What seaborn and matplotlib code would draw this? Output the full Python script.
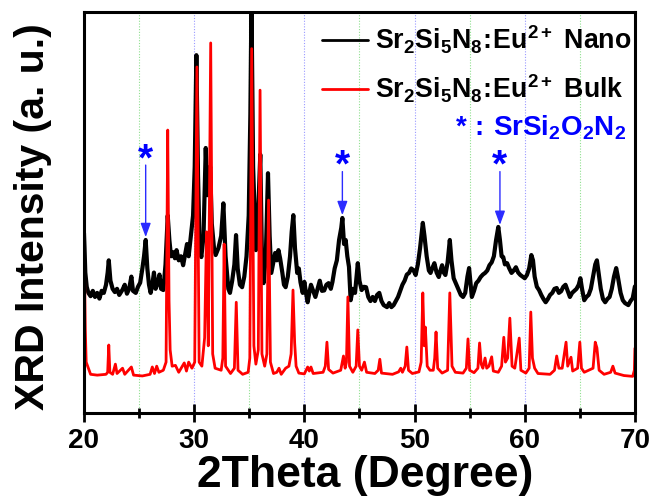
import matplotlib
matplotlib.use('Agg')
import matplotlib.pyplot as plt
import numpy as np
import pandas as pd
import seaborn as sns
from matplotlib.ticker import MultipleLocator

# Sr2Si5N8:Eu2+ nano powder (a.u.)
nano_theta = [20.0, 20.05, 20.12, 20.25, 20.4, 20.6, 20.8, 21.0, 21.2, 21.4, 21.6, 21.8, 22.0, 22.15, 22.25, 22.4,
              22.6, 22.8, 23.0, 23.2, 23.5, 23.7, 23.9, 24.1, 24.3, 24.45, 24.7, 24.9, 25.1, 25.3, 25.45,
              25.6, 25.75, 25.9, 26.05, 26.2, 26.35, 26.5, 26.7, 26.85, 27.0, 27.2, 27.4, 27.6, 27.75, 27.9,
              28.1, 28.25, 28.4, 28.6, 28.8, 29.0, 29.15, 29.35, 29.5, 29.7, 29.9, 30.05, 30.2, 30.35, 30.5,
              30.65, 30.85, 31.05, 31.2, 31.45, 31.6, 31.8, 31.95, 32.2, 32.45, 32.65, 32.85, 33.1, 33.25,
              33.45, 33.65, 33.8, 33.95, 34.15, 34.35, 34.55, 34.75, 34.95, 35.1, 35.2, 35.35, 35.6, 35.8,
              36.0, 36.15, 36.3, 36.5, 36.7, 36.85, 37.0, 37.15, 37.35, 37.5, 37.65, 37.8, 38.0, 38.15, 38.3,
              38.5, 38.7, 38.85, 39.0, 39.15, 39.35, 39.5, 39.65, 39.85, 40.0, 40.15, 40.3, 40.45, 40.6, 40.8,
              41.0, 41.2, 41.4, 41.6, 41.8, 42.0, 42.2, 42.4, 42.55, 42.75, 42.95, 43.15, 43.35, 43.45, 43.6,
              43.75, 43.9, 44.05, 44.2, 44.4, 44.6, 44.85, 45.0, 45.2, 45.4, 45.6, 45.8, 46.0, 46.2, 46.4,
              46.6, 46.8, 47.0, 47.2, 47.5, 47.7, 47.9, 48.1, 48.3, 48.5, 48.7, 48.9, 49.1, 49.3, 49.5, 49.7,
              49.9, 50.1, 50.3, 50.5, 50.75, 50.9, 51.1, 51.3, 51.45, 51.6, 51.8, 52.0, 52.2, 52.35, 52.5,
              52.65, 52.8, 53.0, 53.2, 53.35, 53.55, 53.8, 54.0, 54.2, 54.4, 54.6, 54.8, 54.95, 55.1, 55.2,
              55.4, 55.6, 55.8, 56.0, 56.2, 56.4, 56.6, 56.8, 57.0, 57.2, 57.4, 57.6, 57.75, 57.9, 58.05,
              58.2, 58.4, 58.6, 58.8, 59.0, 59.2, 59.4, 59.6, 59.8, 60.0, 60.2, 60.4, 60.6, 60.75, 60.9,
              61.1, 61.3, 61.5, 61.7, 61.9, 62.1, 62.3, 62.5, 62.7, 62.9, 63.1, 63.3, 63.5, 63.7, 63.9,
              64.1, 64.3, 64.5, 64.7, 64.9, 65.05, 65.2, 65.4, 65.6, 65.8, 66.0, 66.2, 66.4, 66.55, 66.7,
              66.9, 67.1, 67.3, 67.5, 67.7, 67.9, 68.1, 68.3, 68.45, 68.7, 68.9, 69.1, 69.4, 69.6, 69.8, 70.0]
nano_int = [45.7, 42, 36, 32.5, 31, 30.2, 31.5, 30, 31, 29.6, 31.5, 31, 33, 36, 39, 34,
            32, 31.2, 32, 30.5, 31.8, 33, 30.8, 32, 35, 31.5, 31, 32.5, 33.5, 37, 40,
            44, 37, 33, 31, 33, 36, 32, 33.5, 35.5, 32, 31.7, 38, 50, 44, 40,
            41, 39.5, 41.5, 39, 40, 37.8, 40, 43, 40, 45, 50, 62, 89.4, 60, 42,
            39.8, 45, 66.6, 55, 62, 48, 42, 40.3, 42, 45, 53, 40, 32, 31,
            34, 38, 45.2, 37, 33, 32.4, 35, 40, 50, 75, 103, 62, 41.5, 50,
            65, 40, 33.4, 40, 60.4, 45, 35.9, 38, 40.8, 39, 41.5, 39.5, 36, 33, 32.4,
            35, 40, 46, 50.1, 42, 35.9, 37, 33.6, 31, 33.7, 31, 28.7, 31, 33, 31.5,
            30, 32, 34, 31.5, 31.6, 33, 33.4, 32, 33.7, 37, 39, 44, 47, 49.4, 43,
            44, 40, 37.4, 29.2, 32, 31, 38.3, 34, 31.7, 32.5, 32.4, 30, 29, 30, 29,
            30.5, 31, 29, 28, 27.5, 28.5, 27.5, 28, 29, 30, 31.5, 33, 34, 35.5, 35.9, 37,
            36.6, 35.4, 38, 42, 48.2, 45, 40, 36.5, 35.9, 37, 38.3, 36, 34.9, 36.5, 37.8,
            36, 35.4, 38.5, 44, 39, 34.6, 33, 31.7, 30.5, 30, 31, 35, 37.1, 33, 30,
            31.5, 33.4, 34, 34.9, 35.5, 35.9, 36.5, 37.8, 38.5, 40, 44, 47.2, 44, 40, 39.8,
            38, 38.3, 37, 35.9, 36.5, 37.3, 36, 35.4, 35, 34.6, 35.4, 37, 40.3, 39, 35,
            32.5, 31.7, 30.5, 29.5, 28.7, 29.5, 30.5, 31, 32, 32.2, 31, 31.4, 32.5, 33, 31.5,
            30, 31, 31.5, 32, 33, 34.6, 32, 29.2, 30, 30.5, 32, 35, 38, 39, 36,
            32, 29.5, 28.7, 29.5, 30, 32, 35, 37.1, 35, 31, 29.2, 28.5, 28, 29, 29.7, 32.6]

# Sr2Si5N8:Eu2+ bulk powder
bulk_theta = [20.0, 20.05, 20.12, 20.2, 20.6, 21.2, 22.0, 22.15, 22.25, 22.35, 22.6, 22.85, 23.0, 23.5, 23.7, 24.3,
              24.5, 25.3, 26.0, 26.2, 26.4, 26.6, 26.8, 27.2, 27.45, 27.6, 27.72, 27.82, 28.0, 28.3, 28.6,
              29.1, 29.3, 29.5, 29.8, 30.05, 30.25, 30.45, 30.7, 30.95, 31.12, 31.28, 31.5, 31.68, 31.9,
              32.45, 32.6, 32.72, 32.85, 33.3, 33.65, 33.82, 33.98, 34.4, 34.9, 35.05, 35.22, 35.42, 35.6,
              35.82, 35.98, 36.15, 36.4, 36.6, 36.75, 36.92, 37.2, 37.5, 37.7, 37.9, 38.3, 38.6, 38.8,
              38.97, 39.12, 39.25, 39.5, 40.0, 40.3, 40.45, 40.6, 40.8, 41.7, 41.9, 42.05, 42.2, 42.6,
              43.3, 43.55, 43.7, 43.82, 43.95, 44.1, 44.4, 44.7, 44.85, 45.0, 45.2, 45.45, 45.65, 46.4,
              46.7, 46.85, 47.0, 48.0, 48.55, 48.75, 48.9, 49.15, 49.3, 49.45, 49.8, 50.4, 50.6, 50.75,
              50.88, 50.98, 51.15, 51.4, 51.7, 51.83, 51.95, 52.1, 52.5, 53.0, 53.2, 53.4, 53.7, 54.4,
              54.7, 54.85, 55.0, 55.4, 55.75, 55.9, 56.05, 56.2, 56.4, 56.55, 56.75, 57.0, 57.15, 57.6,
              57.9, 58.1, 58.25, 58.45, 58.65, 58.85, 59.1, 59.5, 59.65, 60.1, 60.4, 60.55, 60.7, 60.9,
              61.2, 62.3, 62.7, 62.9, 63.1, 63.4, 63.75, 63.9, 64.2, 64.35, 64.8, 65.0, 65.15, 65.4,
              66.2, 66.4, 66.55, 66.75, 67.2, 67.8, 68.0, 68.2, 69.0, 69.8, 69.95, 70.0]
bulk_int = [39.5, 36, 22, 14, 11, 10.8, 11, 11.5, 18.2, 11.5, 11, 13.5, 11.2, 12.5, 11, 12.8,
            10.8, 10.6, 11, 12.8, 11.2, 13, 11.5, 12, 14, 71, 29, 17, 13, 13.2, 11.5,
            13.8, 11.8, 14, 12.5, 14, 86.5, 14, 13, 20, 46, 18, 92.4, 16, 12.5,
            12, 15, 43, 13, 11.2, 12.5, 28.7, 12, 11, 11.5, 15, 91, 18, 13.5,
            17, 80.8, 16, 13, 16, 53.8, 14, 11.2, 11.5, 12.5, 11, 12.5, 13, 16,
            31.7, 18.7, 13, 11.3, 11.1, 12.8, 11.8, 12.8, 11.2, 11.5, 13, 18.9, 12.2, 11.3,
            12, 15.5, 12.5, 14, 30, 13, 11.5, 13, 21.9, 13, 12, 14, 11.5, 11.2,
            12, 14.7, 11.3, 11, 11.6, 12.5, 11.5, 13, 17.7, 12, 11.2, 11.6, 14, 31,
            18, 22.6, 13, 12, 12, 15, 21.4, 12.5, 11.3, 12, 31, 13, 11.5, 11.3,
            12.5, 19.7, 12, 11.4, 12.5, 18.7, 13.5, 12.5, 15, 12.5, 13, 15.3, 11.8, 11.5,
            13, 20.1, 14, 15, 24.8, 13, 12.5, 19.9, 12, 11.3, 12.5, 26.3, 15, 12.5,
            11.2, 11, 12, 15.5, 12.5, 12.5, 18.9, 13, 15.2, 11.8, 12.5, 18.9, 12.5, 11.5,
            12.5, 18.9, 17.5, 12, 11, 11.5, 13, 11.3, 10.7, 10.5, 12, 17.4]

# SrSi2O2N2 impurity peaks marked with stars: (2theta, peak top, star height)
star_theta = [25.6, 43.45, 57.75]
star_tip = [44.7, 50.1, 47.7]
star_text = [63.6, 62.0, 62.0]

nano_label = r'$\mathbf{Sr_2Si_5N_8\!:\!Eu^{2+}\ Nano}$'
bulk_label = r'$\mathbf{Sr_2Si_5N_8\!:\!Eu^{2+}\ Bulk}$'
phase_label = r'$\mathbf{*\,:\!\ SrSi_2O_2N_2}$'

sns.set_style('ticks')
plt.rcParams['font.family'] = ['Liberation Sans', 'DejaVu Sans']
plt.rcParams['font.weight'] = 'bold'
plt.rcParams['mathtext.fontset'] = 'custom'
plt.rcParams['mathtext.rm'] = 'Liberation Sans:bold'
plt.rcParams['mathtext.it'] = 'Liberation Sans:bold'
plt.rcParams['mathtext.bf'] = 'Liberation Sans:bold'
plt.rcParams['text.color'] = 'black'
plt.rcParams['axes.labelcolor'] = 'black'
plt.rcParams['axes.edgecolor'] = 'black'
plt.rcParams['xtick.color'] = 'black'

df_nano = pd.DataFrame({'theta': nano_theta, 'I': nano_int})
df_bulk = pd.DataFrame({'theta': bulk_theta, 'I': bulk_int})

fig = plt.figure(figsize=(6.51, 4.98), dpi=100)
ax = fig.add_axes([0.129, 0.1707, 0.8463, 0.8052])

# origin-like dotted grid, green on the 5s and blue on the 10s
for x in range(25, 70, 10):
    ax.axvline(x, color='#8fe08f', lw=0.8, ls=(0, (1, 1.5)), zorder=0)
for x in range(30, 70, 10):
    ax.axvline(x, color='#9a9aff', lw=0.8, ls=(0, (1, 1.5)), zorder=0)

sns.lineplot(data=df_nano, x='theta', y='I', ax=ax, color='black', lw=3.0,
             sort=False, estimator=None, label=nano_label)
sns.lineplot(data=df_bulk, x='theta', y='I', ax=ax, color='#ff0000', lw=2.0,
             sort=False, estimator=None, label=bulk_label)

for x, tip, top in zip(star_theta, star_tip, star_text):
    ax.text(x, top, '*', color='#0000ff', fontsize=28, fontweight='bold',
            ha='center', va='center')
    ax.annotate('', xy=(x, tip), xytext=(x, top - 1.2),
                arrowprops=dict(arrowstyle='-|>,head_length=0.6,head_width=0.22',
                                color='#2b2bff', lw=1.0, mutation_scale=14,
                                shrinkA=0, shrinkB=0))

ax.text(0.985, 0.691, phase_label, transform=ax.transAxes, color='#0000ff',
        fontsize=20, ha='right', va='baseline')

leg = ax.legend(loc='upper left', bbox_to_anchor=(0.432, 0.97), frameon=False,
                fontsize=19.3, handlelength=1.7, handletextpad=0.26, labelspacing=0.6,
                borderaxespad=0, borderpad=0)
for line in leg.get_lines():
    line.set_linewidth(2.0)

ax.set_xlim(20, 70)
ax.set_ylim(1.5, 100)
ax.xaxis.set_major_locator(MultipleLocator(10))
ax.xaxis.set_minor_locator(MultipleLocator(5))
ax.set_yticks([])
ax.tick_params(axis='x', which='major', direction='inout', length=13, width=2,
               labelsize=20, pad=4)
ax.tick_params(axis='x', which='minor', direction='inout', length=7, width=2)
for lab in ax.get_xticklabels():
    lab.set_fontweight('bold')
for s in ax.spines.values():
    s.set_visible(True)
    s.set_linewidth(2.2)

ax.set_xlabel('2Theta (Degree)', fontsize=32, fontweight='bold', labelpad=2)
ax.xaxis.set_label_coords(0.511, -0.105)
ax.set_ylabel('XRD Intensity (a. u.)', fontsize=29.5, fontweight='bold')
ax.yaxis.set_label_coords(-0.058, 0.49)

fig.savefig('out.png', dpi=100)
